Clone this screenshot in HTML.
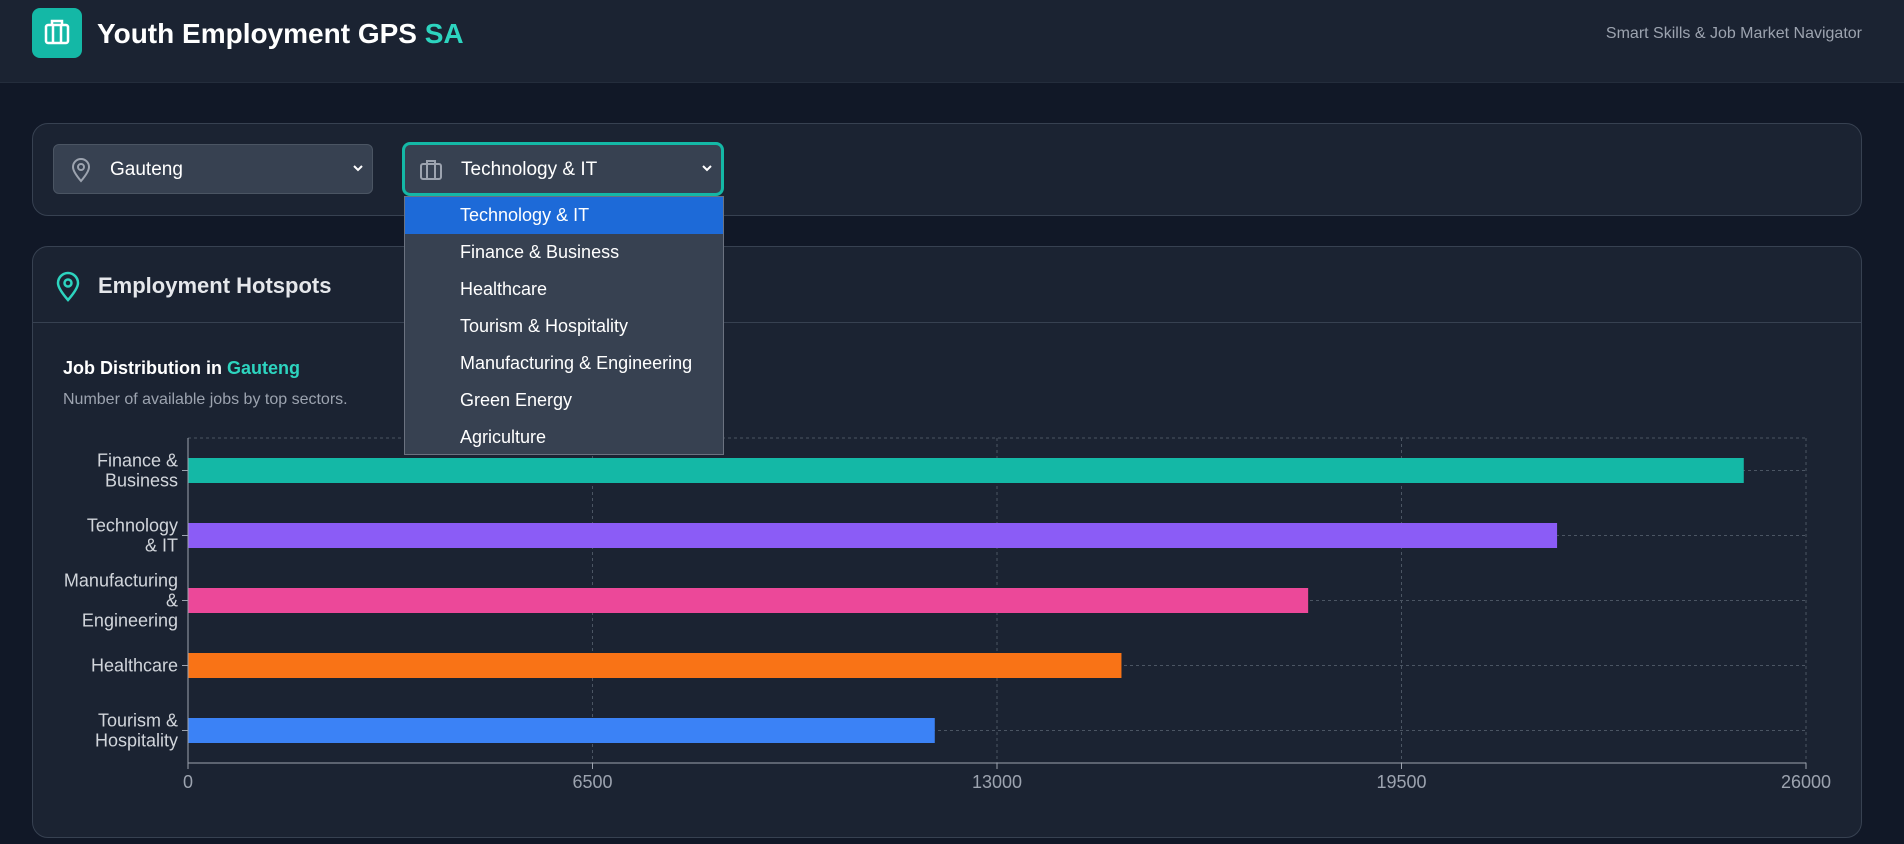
<!DOCTYPE html>
<html><head><meta charset="utf-8">
<style>
*{box-sizing:border-box;margin:0;padding:0}
body{width:1904px;height:844px;overflow:hidden;background:#111827;font-family:"Liberation Sans",sans-serif;color:#f3f4f6;position:relative}
.header{position:absolute;left:0;top:0;width:1904px;height:83px;background:#1b2332;border-bottom:1px solid #242d3c}
.logo{position:absolute;left:32px;top:8px;width:50px;height:50px;background:#14b8a6;border-radius:8px}
.title{position:absolute;left:97px;top:18px;font-size:28px;font-weight:bold;color:#fff}
.title span{color:#2dd4bf}
.sub{position:absolute;right:42px;top:25px;font-size:16px;color:#9ca3af}
.card{position:absolute;background:#1b2332;border:1px solid #374151;border-radius:16px}
.sel{position:absolute;background:#374151;border:1px solid #4b5563;border-radius:6px;font-size:19px;color:#fff}
.sel .t{position:absolute;left:56px;top:14px}
.sel svg.c{position:absolute;right:8px;top:19px}
.dd{position:absolute;left:404px;top:196px;width:320px;height:259px;background:#374151;border:1px solid #6b7280}
.dd div{height:37px;line-height:37px;padding-left:55px;font-size:18px;color:#fff}
.dd .on{background:#1d6ad8}
</style></head><body>
<div class="header">
 <div class="logo">
  <svg width="50" height="50" viewBox="0 0 50 50"><rect x="14" y="17" width="22" height="18" rx="2" fill="none" stroke="#fff" stroke-width="2.5"/><path d="M20 17v-4h10v4M21 17v18M29 17v18" fill="none" stroke="#fff" stroke-width="2.5"/></svg>
 </div>
 <div class="title">Youth Employment GPS <span>SA</span></div>
 <div class="sub">Smart Skills &amp; Job Market Navigator</div>
</div>
<div class="card" style="left:32px;top:123px;width:1830px;height:93px"></div>
<div class="sel" style="left:53px;top:144px;width:320px;height:50px">
 <svg style="position:absolute;left:16px;top:12px" width="22" height="26" viewBox="0 0 22 26"><path d="M11 24C5 17 3 13 3 10a8 8 0 0 1 16 0c0 3-2 7-8 14z" fill="none" stroke="#9ca3af" stroke-width="2"/><circle cx="11" cy="10" r="3" fill="none" stroke="#9ca3af" stroke-width="2"/></svg>
 <span class="t">Gauteng</span>
 <svg class="c" width="12" height="8" viewBox="0 0 12 8"><path d="M2 2l4 4 4-4" fill="none" stroke="#fff" stroke-width="2"/></svg>
</div>
<div class="sel" style="left:402px;top:142px;width:322px;height:54px;border:3px solid #14b8a6;border-radius:8px">
 <svg style="position:absolute;left:14px;top:13px" width="24" height="24" viewBox="0 0 24 24"><rect x="2" y="6" width="20" height="15" rx="2" fill="none" stroke="#9ca3af" stroke-width="2"/><path d="M8 6V3h8v3M8 6v15M16 6v15" fill="none" stroke="#9ca3af" stroke-width="2"/></svg>
 <span class="t" style="top:14px">Technology &amp; IT</span>
 <svg class="c" width="12" height="8" viewBox="0 0 12 8"><path d="M2 2l4 4 4-4" fill="none" stroke="#fff" stroke-width="2"/></svg>
</div>
<div class="card" style="left:32px;top:246px;width:1830px;height:592px">
 <div style="position:absolute;left:0;top:75px;width:100%;height:1px;background:#374151"></div>
 <svg style="position:absolute;left:22px;top:24px" width="26" height="32" viewBox="0 0 26 32"><path d="M13 29C6 21 3 16 3 12a10 10 0 0 1 20 0c0 4-3 9-10 17z" fill="none" stroke="#2dd4bf" stroke-width="2.5"/><circle cx="13" cy="12" r="3.5" fill="none" stroke="#2dd4bf" stroke-width="2.5"/></svg>
 <div style="position:absolute;left:65px;top:26px;font-size:22px;font-weight:bold;color:#e5e7eb">Employment Hotspots</div>
 <div style="position:absolute;left:30px;top:111px;font-size:18px;font-weight:bold;color:#fff">Job Distribution in <span style="color:#2dd4bf">Gauteng</span></div>
 <div style="position:absolute;left:30px;top:144px;font-size:16px;color:#9ca3af">Number of available jobs by top sectors.</div>
</div>
<svg id="chart" style="position:absolute;left:0;top:0" width="1904" height="844">
 <defs><clipPath id="cl"><rect x="63" y="0" width="1800" height="844"/></clipPath></defs>
</svg>
<div class="dd">
 <div class="on">Technology &amp; IT</div>
 <div>Finance &amp; Business</div>
 <div>Healthcare</div>
 <div>Tourism &amp; Hospitality</div>
 <div>Manufacturing &amp; Engineering</div>
 <div>Green Energy</div>
 <div>Agriculture</div>
</div>
<script>
const categories=[["Finance &","Business"],["Technology","& IT"],["Manufacturing","&","Engineering"],["Healthcare"],["Tourism &","Hospitality"]];
const values=[25000,22000,18000,15000,12000];
const colors=["#14b8a6","#8b5cf6","#ec4899","#f97316","#3b82f6"];
const ticks=[0,6500,13000,19500,26000];
const X0=188,X1=1806,Y0=438,Y1=763,MAX=26000;
const x=v=>X0+(v/MAX)*(X1-X0);
const band=(Y1-Y0)/categories.length;
const yc=i=>Y0+band*(i+0.5);
const svg=document.getElementById('chart');
const NS="http://www.w3.org/2000/svg";
function mk(t,a){const e=document.createElementNS(NS,t);for(const k in a)e.setAttribute(k,a[k]);svg.appendChild(e);return e;}
let g=mk('line',{x1:X0,x2:X1,y1:Y0,y2:Y0,stroke:'#4b5563','stroke-dasharray':'3 3'});


ticks.forEach(t=>{
 const l=mk('line',{x1:x(t),x2:x(t),y1:Y0,y2:Y1,stroke:'#4b5563','stroke-dasharray':'3 3'});
 
 
 const tx=mk('text',{x:x(t),y:Y1+25,fill:'#9ca3af','font-size':18,'text-anchor':'middle','font-family':'Liberation Sans, sans-serif'});
 tx.textContent=t;
 
 
 mk('line',{x1:x(t),x2:x(t),y1:Y1,y2:Y1+6,stroke:'#9ca3af'});
});
categories.forEach((c,i)=>{
 const hl=mk('line',{x1:X0,x2:X1,y1:yc(i),y2:yc(i),stroke:'#4b5563','stroke-dasharray':'3 3'});
 
 
 const r=mk('rect',{x:X0,y:yc(i)-12.5,width:x(values[i])-X0,height:25,fill:colors[i]});
 
 
 mk('line',{x1:X0-6,x2:X0,y1:yc(i),y2:yc(i),stroke:'#9ca3af'});
 const n=c.length, lh=20;
 c.forEach((s,j)=>{
  const t=mk('text',{x:X0-10,y:yc(i)+6+(j-(n-1)/2)*lh,fill:'#d1d5db','font-size':18,'text-anchor':'end','font-family':'Liberation Sans, sans-serif','clip-path':'url(#cl)'});
  t.textContent=s;
  
  
 });
});
mk('line',{x1:X0,x2:X0,y1:Y0,y2:Y1,stroke:'#9ca3af'});
mk('line',{x1:X0,x2:X1,y1:Y1,y2:Y1,stroke:'#9ca3af'});
</script>
</body></html>
